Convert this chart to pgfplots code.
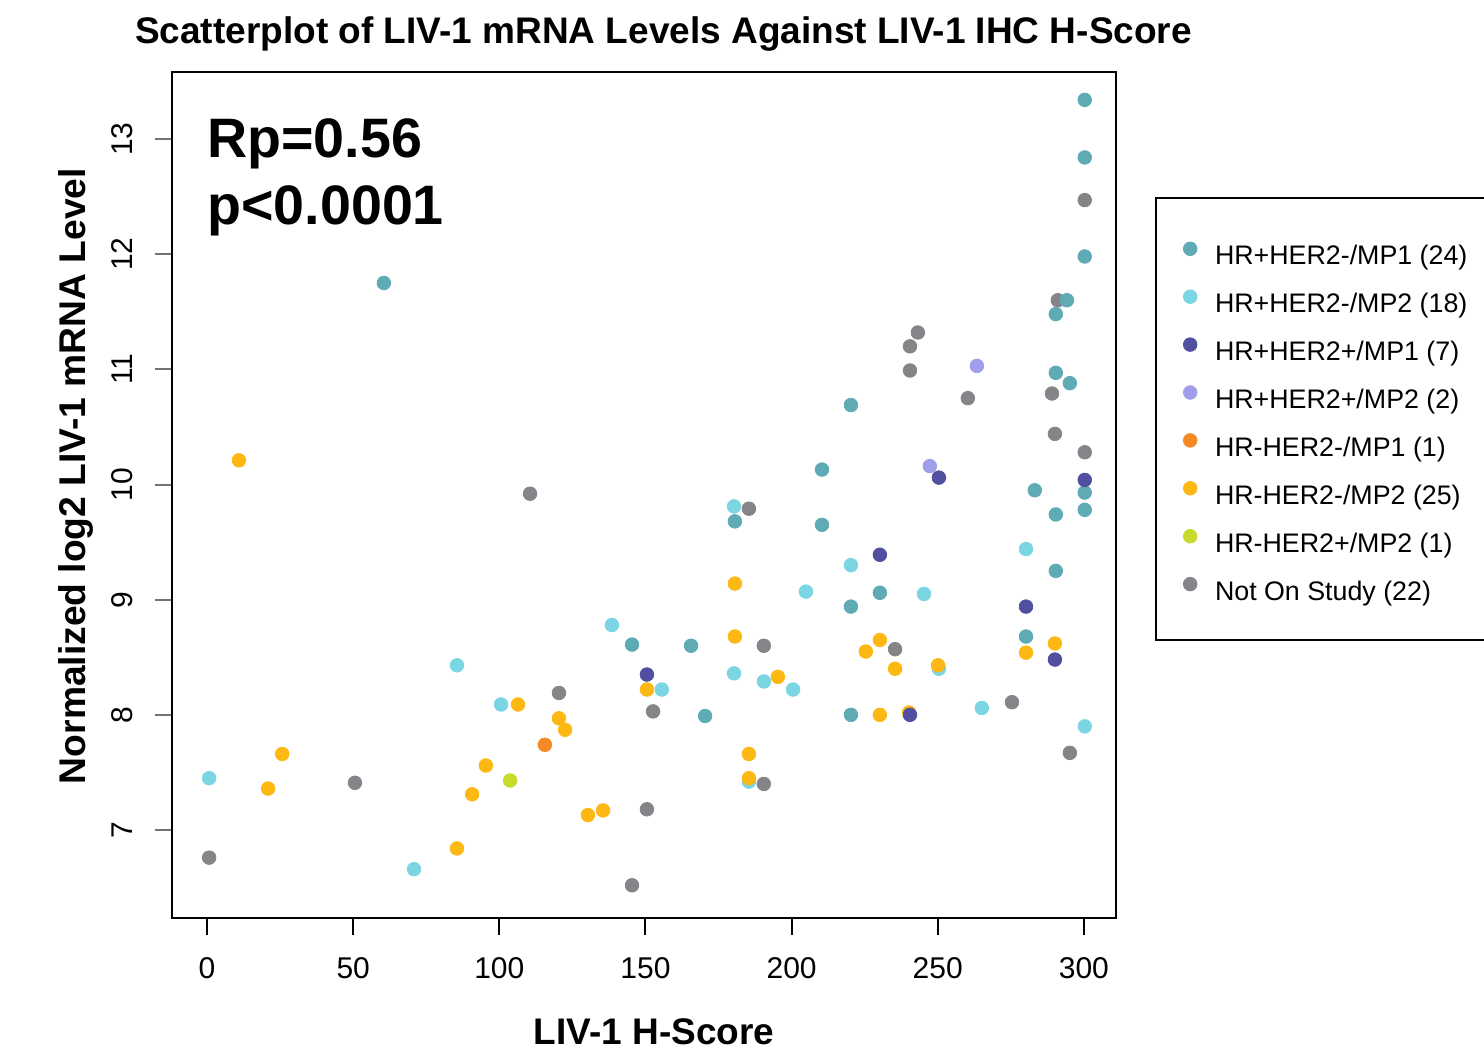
\documentclass[border=0pt]{standalone}
\usepackage{fontspec}
\setmainfont{Liberation Sans}
\usepackage{pgfplots}
\pgfplotsset{compat=1.18}
\definecolor{cteal}{HTML}{5FABB5}
\definecolor{ccyan}{HTML}{7BD5E3}
\definecolor{cdpurp}{HTML}{5150A0}
\definecolor{clpurp}{HTML}{A09EEA}
\definecolor{corange}{HTML}{F58A25}
\definecolor{cyellow}{HTML}{FDB814}
\definecolor{clime}{HTML}{C8DA2B}
\definecolor{cgray}{HTML}{858589}
\begin{document}
\begin{tikzpicture}
\useasboundingbox (-86pt,-66pt) rectangle (656pt,459pt);
\begin{axis}[
  at={(0pt,0pt)}, anchor=south west,
  scale only axis, width=472pt, height=423pt,
  xmin=-12, xmax=311, ymin=6.236, ymax=13.582,
  xtick={0,50,100,150,200,250,300},
  ytick={7,8,9,10,11,12,13},
  tick pos=left, tick align=outside, major tick length=8.5pt,
  x tick style={black, line width=1pt},
  y tick style={black!55, line width=1pt},
  axis line style={line width=1pt},
  /pgf/number format/assume math mode=true,
  tick label style={font=\fontsize{15}{18}\selectfont},
  xticklabel style={anchor=base},
  xticklabel shift=21.5pt,
  yticklabel style={rotate=90, anchor=base},
  yticklabel shift=11pt,
  legend cell align=left,
  legend style={draw=none, fill=none, at={(1,1)}, anchor=north west,
    xshift=33.5pt, yshift=-84.8pt, inner sep=0pt, row sep=9pt, column sep=9pt,
    font=\fontsize{13.4}{16}\selectfont,
    nodes={inner sep=0pt, text height=10pt, text depth=3.5pt}},
  legend image code/.code={\draw[#1] plot coordinates {(0pt,4.8pt)};},
  every axis plot/.append style={only marks, mark=*, mark size=3.4pt},
]
% Not On Study
\addplot[color=cgray, forget plot] table {
x y
0.7 6.76
50.6 7.41
110.5 9.92
120.4 8.19
152.6 8.03
150.5 7.18
145.4 6.52
185.4 9.79
190.5 8.60
190.5 7.40
243.2 11.32
240.5 11.20
240.5 10.99
260.3 10.75
289.1 10.79
290.1 10.44
300.3 10.28
300.3 12.47
291.1 11.60
235.4 8.57
275.4 8.11
295.2 7.67
};
% HR+HER2-/MP1
\addplot[color=cteal, forget plot] table {
x y
60.5 11.75
300.3 13.34
300.3 12.84
300.3 11.98
294.2 11.60
290.4 11.48
290.4 10.97
295.2 10.88
220.3 10.69
210.4 10.13
210.4 9.65
283.2 9.95
290.4 9.74
300.3 9.93
300.3 9.78
180.6 9.68
290.4 9.25
230.2 9.06
220.3 8.94
280.2 8.68
145.4 8.61
165.6 8.60
170.4 7.99
220.3 8.00
};
% HR+HER2-/MP2
\addplot[color=ccyan, forget plot] table {
x y
0.7 7.45
70.8 6.66
85.5 8.43
100.6 8.09
138.5 8.78
155.6 8.22
180.3 9.81
180.3 8.36
190.5 8.29
200.5 8.22
204.9 9.07
220.3 9.30
245.3 9.05
185.4 7.42
265.1 8.06
280.2 9.44
300.3 7.90
250.4 8.40
};
% HR-HER2-/MP2
\addplot[color=cyellow, forget plot] table {
x y
10.9 10.21
25.7 7.66
20.9 7.36
85.5 6.84
95.4 7.56
90.7 7.31
106.4 8.09
120.4 7.97
122.5 7.87
130.3 7.13
135.5 7.17
150.5 8.22
180.6 9.14
180.6 8.68
185.4 7.66
185.4 7.45
195.3 8.33
230.2 8.65
225.4 8.55
235.4 8.40
250.1 8.43
230.2 8.00
240.2 8.02
280.2 8.54
290.1 8.62
};
% HR-HER2-/MP1
\addplot[color=corange, forget plot] table {
x y
115.6 7.74
};
% HR-HER2+/MP2
\addplot[color=clime, forget plot] table {
x y
103.7 7.43
};
% HR+HER2+/MP2
\addplot[color=clpurp, forget plot] table {
x y
263.4 11.03
247.3 10.16
};
% HR+HER2+/MP1
\addplot[color=cdpurp, forget plot] table {
x y
150.5 8.35
230.2 9.39
250.4 10.06
300.3 10.04
280.2 8.94
290.1 8.48
240.5 8.00
};
\addlegendimage{color=cteal, only marks, mark=*, mark size=3.4pt}
\addlegendentry{HR+HER2-/MP1 (24)}
\addlegendimage{color=ccyan, only marks, mark=*, mark size=3.4pt}
\addlegendentry{HR+HER2-/MP2 (18)}
\addlegendimage{color=cdpurp, only marks, mark=*, mark size=3.4pt}
\addlegendentry{HR+HER2+/MP1 (7)}
\addlegendimage{color=clpurp, only marks, mark=*, mark size=3.4pt}
\addlegendentry{HR+HER2+/MP2 (2)}
\addlegendimage{color=corange, only marks, mark=*, mark size=3.4pt}
\addlegendentry{HR-HER2-/MP1 (1)}
\addlegendimage{color=cyellow, only marks, mark=*, mark size=3.4pt}
\addlegendentry{HR-HER2-/MP2 (25)}
\addlegendimage{color=clime, only marks, mark=*, mark size=3.4pt}
\addlegendentry{HR-HER2+/MP2 (1)}
\addlegendimage{color=cgray, only marks, mark=*, mark size=3.4pt}
\addlegendentry{Not On Study (22)}
\end{axis}
\draw[line width=1pt] (492pt,360pt) rectangle (760pt,139pt);
\node[anchor=base west, inner sep=0pt, font=\bfseries\fontsize{27.8}{33}\selectfont] at (17.5pt,380pt) {Rp=0.56};
\node[anchor=base west, inner sep=0pt, font=\bfseries\fontsize{27.8}{33}\selectfont] at (17.5pt,346.5pt) {p<0.0001};
\node[anchor=base, inner sep=0pt, font=\bfseries\fontsize{18.5}{22}\selectfont] at (245.75pt,437pt) {Scatterplot of LIV-1 mRNA Levels Against LIV-1 IHC H-Score};
\node[anchor=base, inner sep=0pt, font=\bfseries\fontsize{18.5}{22}\selectfont] at (241pt,-63.4pt) {LIV-1 H-Score};
\node[anchor=base, rotate=90, inner sep=0pt, font=\bfseries\fontsize{18.6}{22}\selectfont] at (-43pt,221pt) {Normalized log2 LIV-1 mRNA Level};
\end{tikzpicture}
\end{document}
